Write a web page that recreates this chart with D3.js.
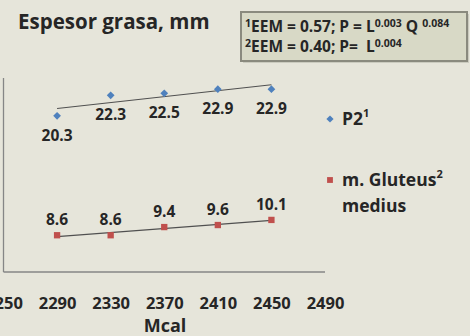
<!DOCTYPE html>
<html>
<head>
<meta charset="utf-8">
<script src="https://cdn.jsdelivr.net/npm/d3@7"></script>
<style>
  html, body { margin: 0; padding: 0; background: #e6e5da; }
  svg { display: block; }
  text { font-family: "Open Sans", Lato, sans-serif; font-weight: bold; fill: #262626; }
</style>
</head>
<body>
<svg id="chart" width="470" height="336"></svg>
<script>
// Dietary energy (Mcal) levels
const energy = [2290, 2330, 2370, 2410, 2450];
// Fat thickness, mm
const p2 = [20.3, 22.3, 22.5, 22.9, 22.9];
const gluteus = [8.6, 8.6, 9.4, 9.6, 10.1];
const xTicks = [2250, 2290, 2330, 2370, 2410, 2450, 2490];

const svg = d3.select("#chart");

const x = d3.scaleLinear().domain([2250, 2490]).range([3.5, 325]);
const y = d3.scaleLinear().domain([5, 24]).range([272, 78]);

// Axis lines
svg.append("line").attr("x1", x(2250)).attr("x2", x(2250))
  .attr("y1", y(24)).attr("y2", y(5))
  .attr("stroke", "#868686").attr("stroke-width", 1.3);
svg.append("line").attr("x1", x(2250)).attr("x2", x(2490))
  .attr("y1", y(5)).attr("y2", y(5))
  .attr("stroke", "#868686").attr("stroke-width", 1.3);

// X tick labels
const xAxis = d3.axisBottom(x).tickValues(xTicks).tickSize(0).tickPadding(0).tickFormat(d3.format("d"));
const gx = svg.append("g").attr("transform", `translate(0,${y(5)})`).call(xAxis);
gx.select(".domain").remove();
gx.selectAll("text")
  .attr("dy", null).attr("y", 37)
  .attr("font-family", "'Open Sans', sans-serif").attr("font-weight", "bold")
  .attr("font-size", 16.5).attr("fill", "#262626");

svg.append("text").attr("x", 165).attr("y", 332)
  .attr("text-anchor", "middle").attr("font-size", 18).text("Mcal");

// Linear trend line (least squares)
function trend(xs, ys) {
  const mx = d3.mean(xs), my = d3.mean(ys);
  const b = d3.sum(xs, (v, i) => (v - mx) * (ys[i] - my)) / d3.sum(xs, v => (v - mx) ** 2);
  const a = my - b * mx;
  return [xs[0], xs[xs.length - 1]].map(v => [v, a + b * v]);
}

function drawSeries(vals, color, size, rotate, labelDy) {
  const t = trend(energy, vals);
  svg.append("line")
    .attr("x1", x(t[0][0])).attr("y1", y(t[0][1]))
    .attr("x2", x(t[1][0])).attr("y2", y(t[1][1]))
    .attr("stroke", "#505050").attr("stroke-width", 1.1);
  const sym = d3.symbol().type(d3.symbolSquare).size(size);
  svg.append("g").selectAll("path").data(vals).join("path")
    .attr("d", sym)
    .attr("transform", (d, i) => `translate(${x(energy[i])},${y(d)}) rotate(${rotate})`)
    .attr("fill", color);
  svg.append("g").selectAll("text").data(vals).join("text")
    .attr("x", (d, i) => x(energy[i]))
    .attr("y", d => y(d) + labelDy)
    .attr("text-anchor", "middle")
    .attr("font-size", 15.5)
    .text(d => d.toFixed(1));
}

drawSeries(p2, "#4f81bd", 30, 45, 25);
drawSeries(gluteus, "#c0504d", 40, 0, -10);

// Title
svg.append("text").attr("x", 18).attr("y", 29)
  .attr("font-size", 20.5).text("Espesor grasa, mm");

// Statistics box
svg.append("rect").attr("x", 243).attr("y", 14).attr("width", 226).attr("height", 49)
  .attr("fill", "#b9b9ad").attr("opacity", 0.6);
svg.append("rect").attr("x", 241).attr("y", 12).attr("width", 226).attr("height", 49)
  .attr("fill", "#d8d9c6").attr("stroke", "#8a8a7e").attr("stroke-width", 2);

const stats = [
  [["1", true], ["EEM = 0.57; P = L", false], ["0.003", true], [" Q ", false], ["0.084", true]],
  [["2", true], ["EEM = 0.40; P=  L", false], ["0.004", true]]
];
stats.forEach((parts, r) => {
  const t = svg.append("text").attr("x", 245).attr("y", 32 + r * 20)
    .attr("font-size", 15.5).attr("xml:space", "preserve");
  let raised = false;
  parts.forEach(([s, sup]) => {
    const dy = sup ? (raised ? 0 : -5.5) : (raised ? 5.5 : 0);
    raised = sup;
    t.append("tspan")
      .attr("font-size", sup ? 10.5 : 15.5)
      .attr("dy", dy)
      .text(s);
  });
});

// Legend
const legend = [
  { color: "#4f81bd", rotate: 45, size: 26, lines: ["P2"], sup: "1", y: 119 },
  { color: "#c0504d", rotate: 0, size: 34, lines: ["m. Gluteus", "medius"], sup: "2", y: 180 }
];
legend.forEach(l => {
  svg.append("path").attr("d", d3.symbol().type(d3.symbolSquare).size(l.size)())
    .attr("transform", `translate(330,${l.y}) rotate(${l.rotate})`).attr("fill", l.color);
  l.lines.forEach((s, i) => {
    const t = svg.append("text").attr("x", 342).attr("y", l.y + 6 + i * 26)
      .attr("font-size", 17.5).text(s);
    if (i === 0) t.append("tspan").attr("dy", -8).attr("font-size", 11).text(l.sup);
  });
});
</script>
</body>
</html>
